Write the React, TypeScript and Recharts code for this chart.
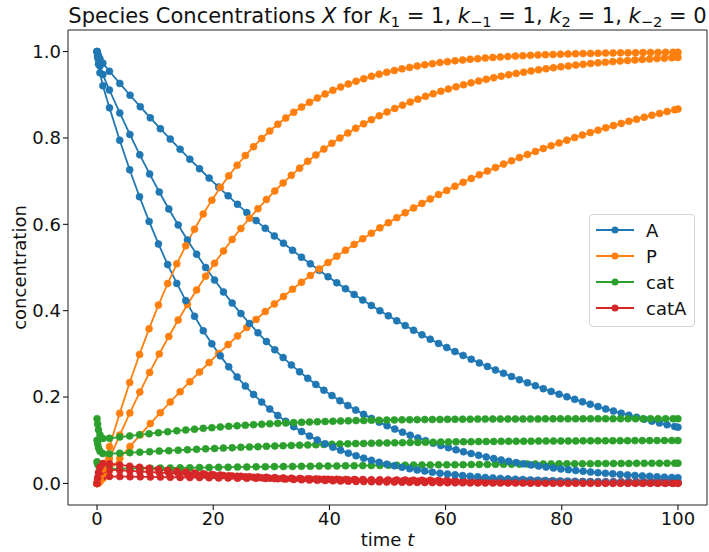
import React from "react";
import {Legend, Line, LineChart, ReferenceArea, XAxis, YAxis} from "recharts";

// run 1: cat0 = 0.05
const T1 = [0, 0.1, 0.25, 0.5, 1, 2.13, 3.92, 5.68, 7.44, 9.17, 10.9, 12.6, 14.3, 15.97, 17.64, 19.29, 20.93, 22.56, 24.18, 25.78, 27.38, 28.96, 30.53, 32.09, 33.65, 35.19, 36.72, 38.25, 39.76, 41.27, 42.77, 44.26, 45.74, 47.22, 48.69, 50.15, 51.6, 53.05, 54.49, 55.93, 57.36, 58.78, 60.2, 61.61, 63.02, 64.42, 65.81, 67.2, 68.59, 69.97, 71.35, 72.72, 74.09, 75.46, 76.82, 78.17, 79.53, 80.88, 82.22, 83.56, 84.9, 86.24, 87.57, 88.9, 90.23, 91.55, 92.87, 94.19, 95.51, 96.82, 98.13, 99.44, 100];
const A1 = [1, 0.9955, 0.9901, 0.9832, 0.9731, .9545, .9263, .8989, .8724, .8466, .8216, .7973, .7737, .7509, .7287, .7071, .6862, .6660, .6463, .6272, .6086, .5907, .5732, .5563, .5398, .5239, .5084, .4934, .4788, .4646, .4509, .4376, .4246, .4121, .3999, .3881, .3766, .3655, .3547, .3442, .3340, .3242, .3146, .3053, .2963, .2875, .2790, .2708, .2628, .2550, .2475, .2401, .2330, .2262, .2195, .2130, .2067, .2006, .1947, .1889, .1833, .1779, .1726, .1675, .1626, .1578, .1531, .1486, .1442, .1399, .1358, .1318, .1301];
const P1 = [0, 0.0002, 0.0012, 0.004, 0.0113, .0293, .0579, .0856, .1124, .1385, .1639, .1885, .2123, .2355, .2580, .2798, .3010, .3216, .3415, .3609, .3797, .3980, .4157, .4329, .4496, .4658, .4815, .4968, .5116, .5260, .5399, .5535, .5666, .5794, .5918, .6038, .6155, .6268, .6378, .6485, .6588, .6689, .6786, .6881, .6973, .7062, .7149, .7233, .7314, .7394, .7470, .7545, .7617, .7688, .7756, .7822, .7886, .7949, .8009, .8068, .8125, .8180, .8234, .8286, .8337, .8386, .8433, .8480, .8524, .8568, .8610, .8651, .8669];
const CAT1 = [0.05, 0.0457, 0.0413, 0.0372, 0.0343, .0338, .0342, .0345, .0348, .0351, .0354, .0357, .0361, .0364, .0366, .0369, .0372, .0375, .0378, .0381, .0383, .0386, .0389, .0391, .0394, .0396, .0399, .0401, .0403, .0406, .0408, .0410, .0412, .0415, .0417, .0419, .0421, .0423, .0425, .0427, .0428, .0430, .0432, .0434, .0435, .0437, .0439, .0440, .0442, .0443, .0445, .0446, .0448, .0449, .0451, .0452, .0453, .0454, .0456, .0457, .0458, .0459, .0460, .0461, .0462, .0463, .0464, .0465, .0466, .0467, .0468, .0469, .0469];
const CATA1 = [0, 0.0043, 0.0087, 0.0128, 0.0157, .0162, .0158, .0155, .0152, .0149, .0146, .0143, .0139, .0136, .0134, .0131, .0128, .0125, .0122, .0119, .0117, .0114, .0111, .0109, .0106, .0104, .0101, .0099, .0097, .0094, .0092, .0090, .0088, .0085, .0083, .0081, .0079, .0077, .0075, .0073, .0072, .0070, .0068, .0066, .0065, .0063, .0061, .0060, .0058, .0057, .0055, .0054, .0052, .0051, .0049, .0048, .0047, .0046, .0044, .0043, .0042, .0041, .0040, .0039, .0038, .0037, .0036, .0035, .0034, .0033, .0032, .0031, .0031];

// run 2: cat0 = 0.1
const T2 = [0, 0.1, 0.25, 0.5, 1, 2.13, 3.91, 5.65, 7.36, 9.05, 10.71, 12.35, 13.97, 15.56, 17.14, 18.69, 20.23, 21.76, 23.26, 24.76, 26.24, 27.7, 29.16, 30.6, 32.03, 33.45, 34.87, 36.27, 37.67, 39.05, 40.43, 41.81, 43.17, 44.53, 45.89, 47.24, 48.58, 49.92, 51.25, 52.58, 53.91, 55.23, 56.55, 57.86, 59.18, 60.48, 61.79, 63.09, 64.39, 65.69, 66.99, 68.28, 69.57, 70.86, 72.15, 73.44, 74.72, 76.01, 77.29, 78.57, 79.85, 81.13, 82.41, 83.68, 84.96, 86.23, 87.51, 88.78, 90.05, 91.32, 92.59, 93.86, 95.13, 96.4, 97.67, 98.94, 100];
const A2 = [1, 0.9911, 0.9804, 0.9668, 0.9468, .9111, .8580, .8081, .7610, .7167, .6749, .6356, .5986, .5638, .5309, .5000, .4709, .4435, .4176, .3933, .3704, .3488, .3285, .3094, .2914, .2744, .2584, .2434, .2292, .2159, .2033, .1915, .1803, .1698, .1599, .1506, .1418, .1336, .1258, .1185, .1116, .1051, .0990, .0932, .0878, .0827, .0778, .0733, .0690, .0650, .0612, .0577, .0543, .0511, .0482, .0454, .0427, .0402, .0379, .0357, .0336, .0317, .0298, .0281, .0264, .0249, .0234, .0221, .0208, .0196, .0184, .0174, .0164, .0154, .0145, .0137, .0130];
const P2 = [0, 0.0005, 0.0024, 0.0079, 0.0223, .0576, .1120, .1632, .2115, .2570, .2998, .3403, .3784, .4143, .4481, .4800, .5101, .5384, .5651, .5903, .6140, .6363, .6574, .6772, .6959, .7135, .7301, .7458, .7605, .7744, .7875, .7998, .8114, .8224, .8327, .8424, .8516, .8602, .8683, .8760, .8832, .8899, .8963, .9024, .9080, .9134, .9184, .9232, .9276, .9318, .9358, .9395, .9431, .9464, .9495, .9524, .9552, .9578, .9603, .9626, .9648, .9668, .9687, .9706, .9723, .9739, .9754, .9768, .9782, .9795, .9807, .9818, .9828, .9838, .9848, .9857, .9864];
const CAT2 = [0.1, 0.0916, 0.0828, 0.0747, 0.069, .0687, .0700, .0712, .0724, .0736, .0748, .0759, .0770, .0780, .0790, .0800, .0809, .0819, .0827, .0836, .0844, .0851, .0859, .0866, .0873, .0879, .0886, .0892, .0897, .0903, .0908, .0913, .0917, .0922, .0926, .0930, .0934, .0937, .0941, .0944, .0947, .0950, .0953, .0955, .0958, .0960, .0963, .0965, .0967, .0969, .0970, .0972, .0974, .0975, .0976, .0978, .0979, .0980, .0981, .0982, .0983, .0984, .0985, .0986, .0987, .0988, .0988, .0989, .0990, .0990, .0991, .0991, .0992, .0992, .0993, .0993, .0994];
const CATA2 = [0, 0.0084, 0.0172, 0.0253, 0.031, .0313, .0300, .0288, .0276, .0264, .0252, .0241, .0230, .0220, .0210, .0200, .0191, .0181, .0173, .0164, .0156, .0149, .0141, .0134, .0127, .0121, .0114, .0108, .0103, .0097, .0092, .0087, .0083, .0078, .0074, .0070, .0066, .0063, .0059, .0056, .0053, .0050, .0047, .0045, .0042, .0040, .0037, .0035, .0033, .0031, .0030, .0028, .0026, .0025, .0024, .0022, .0021, .0020, .0019, .0018, .0017, .0016, .0015, .0014, .0013, .0012, .0012, .0011, .0010, .0010, .0009, .0009, .0008, .0008, .0007, .0007, .0006];

// run 3: cat0 = 0.15
const T3 = [0, 0.1, 0.25, 0.5, 1, 2.14, 3.9, 5.62, 7.31, 8.96, 10.57, 12.16, 13.73, 15.27, 16.78, 18.28, 19.76, 21.22, 22.67, 24.11, 25.53, 26.94, 28.34, 29.73, 31.11, 32.49, 33.85, 35.21, 36.57, 37.92, 39.26, 40.6, 41.93, 43.26, 44.59, 45.91, 47.24, 48.55, 49.87, 51.18, 52.5, 53.81, 55.11, 56.42, 57.72, 59.03, 60.33, 61.63, 62.93, 64.23, 65.53, 66.83, 68.13, 69.42, 70.72, 72.02, 73.31, 74.61, 75.9, 77.19, 78.49, 79.78, 81.07, 82.37, 83.66, 84.95, 86.24, 87.54, 88.83, 90.12, 91.41, 92.7, 93.99, 95.28, 96.57, 97.87, 99.16, 100];
const A3 = [1, 0.9868, 0.9709, 0.9508, 0.921, .8697, .7948, .7264, .6639, .6068, .5545, .5068, .4632, .4233, .3869, .3536, .3232, .2954, .2699, .2467, .2255, .2061, .1883, .1721, .1573, .1438, .1314, .1201, .1097, .1003, .0917, .0838, .0766, .0700, .0640, .0585, .0534, .0488, .0446, .0408, .0373, .0341, .0311, .0285, .0260, .0238, .0217, .0199, .0181, .0166, .0152, .0139, .0127, .0116, .0106, .0097, .0088, .0081, .0074, .0067, .0062, .0056, .0052, .0047, .0043, .0039, .0036, .0033, .0030, .0027, .0025, .0023, .0021, .0019, .0018, .0016, .0015, .0014];
const P3 = [0, 0.0007, 0.0036, 0.0117, 0.0331, .0848, .1625, .2336, .2987, .3583, .4129, .4629, .5086, .5505, .5888, .6239, .6560, .6854, .7122, .7368, .7593, .7799, .7988, .8160, .8318, .8462, .8594, .8714, .8825, .8925, .9018, .9102, .9179, .9250, .9314, .9373, .9427, .9476, .9521, .9562, .9600, .9634, .9666, .9695, .9721, .9745, .9767, .9787, .9805, .9822, .9837, .9851, .9864, .9876, .9886, .9896, .9905, .9913, .9921, .9928, .9934, .9940, .9945, .9950, .9954, .9958, .9961, .9965, .9968, .9971, .9973, .9975, .9978, .9980, .9981, .9983, .9984, .9985];
const CAT3 = [0.15, 0.1375, 0.1245, 0.1124, 0.1041, .1045, .1073, .1100, .1126, .1151, .1174, .1197, .1218, .1238, .1257, .1275, .1291, .1307, .1322, .1335, .1348, .1360, .1371, .1381, .1391, .1399, .1408, .1415, .1422, .1428, .1434, .1440, .1445, .1449, .1454, .1457, .1461, .1464, .1467, .1470, .1473, .1475, .1477, .1479, .1481, .1482, .1484, .1485, .1487, .1488, .1489, .1490, .1491, .1491, .1492, .1493, .1493, .1494, .1494, .1495, .1495, .1496, .1496, .1496, .1497, .1497, .1497, .1498, .1498, .1498, .1498, .1498, .1498, .1499, .1499, .1499, .1499, .1499];
const CATA3 = [0, 0.0125, 0.0255, 0.0376, 0.0459, .0455, .0427, .0400, .0374, .0349, .0326, .0303, .0282, .0262, .0243, .0225, .0209, .0193, .0178, .0165, .0152, .0140, .0129, .0119, .0109, .0101, .0092, .0085, .0078, .0072, .0066, .0060, .0055, .0051, .0046, .0043, .0039, .0036, .0033, .0030, .0027, .0025, .0023, .0021, .0019, .0018, .0016, .0015, .0013, .0012, .0011, .0010, .0009, .0009, .0008, .0007, .0007, .0006, .0006, .0005, .0005, .0004, .0004, .0004, .0003, .0003, .0003, .0002, .0002, .0002, .0002, .0002, .0002, .0001, .0001, .0001, .0001, .0001];

const X_TICKS = [0, 20, 40, 60, 80, 100];
const Y_TICKS = [0, 0.2, 0.4, 0.6, 0.8, 1.0];

const SPECIES = [
    {key: "A", color: "#1f77b4"},
    {key: "P", color: "#ff7f0e"},
    {key: "cat", color: "#2ca02c"},
    {key: "catA", color: "#d62728"},
];

const RUNS = [
    {t: T1, A: A1, P: P1, cat: CAT1, catA: CATA1},
    {t: T2, A: A2, P: P2, cat: CAT2, catA: CATA2},
    {t: T3, A: A3, P: P3, cat: CAT3, catA: CATA3},
];

const FONT = "DejaVu Sans";

const renderLegend = (props: any) => {
    const items = (props.payload || []).filter((p: any) => p.type !== "none");
    return (
        <div style={{
            width: 106, height: 113, boxSizing: "border-box", border: "1px solid #d4d4d4",
            borderRadius: 4, background: "rgba(255,255,255,0.8)", fontFamily: FONT, fontSize: 18,
            paddingTop: 2
        }}>
            {items.map((p: any) => (
                <div key={p.value} style={{display: "flex", alignItems: "center", height: 26}}>
                    <svg width={50} height={12} style={{marginLeft: 6}}>
                        <line x1={0} y1={6} x2={38} y2={6} stroke={p.color} strokeWidth={1.8}/>
                        <circle cx={19} cy={6} r={3.5} fill={p.color}/>
                    </svg>
                    <span style={{color: "#111"}}>{p.value}</span>
                </div>
            ))}
        </div>
    );
};

const xLabel = (props: any) => {
    const vb = props.viewBox;
    return (
        <text x={vb.x + vb.width / 2} y={vb.y + 41} textAnchor="middle" fontSize={18} fontFamily={FONT} fill="#111">
            <tspan>time </tspan><tspan fontStyle="italic">t</tspan>
        </text>
    );
};

const yLabel = (props: any) => {
    const vb = props.viewBox;
    const x = vb.x + 21;
    const y = vb.y + vb.height / 2;
    return (
        <text x={x} y={y} transform={`rotate(-90 ${x} ${y})`} textAnchor="middle" dominantBaseline="middle"
              fontSize={18} fontFamily={FONT} fill="#111">concentration</text>
    );
};

export default function App() {
    const sub = {fontSize: "0.7em", verticalAlign: "-0.3em", lineHeight: 0};
    return (
        <div style={{position: "absolute", left: 0, top: 0, width: 709, height: 552, background: "#fff"}}>
            <div style={{
                position: "absolute", left: 38, width: 699, top: 4, textAlign: "center",
                fontFamily: FONT, fontSize: 21, lineHeight: "24px", color: "#111", whiteSpace: "nowrap", zIndex: 2
            }}>
                Species Concentrations <i>X</i> for <i>k</i><sub style={sub}>1</sub> = 1, <i>k</i><sub style={sub}>−1</sub> = 1, <i>k</i><sub style={sub}>2</sub> = 1, <i>k</i><sub style={sub}>−2</sub> = 0
            </div>
            <LineChart width={709} height={552} margin={{top: 30, right: 2, bottom: 0, left: 0}}>
                <XAxis type="number" dataKey="t" domain={[-5, 105]} ticks={X_TICKS} allowDataOverflow
                       height={47} axisLine={false} tickLine={{stroke: "#000"}} tickSize={5}
                       tick={{fontSize: 18, fontFamily: FONT, fill: "#111"}} label={{content: xLabel}}/>
                <YAxis type="number" domain={[-0.05, 1.05]} ticks={Y_TICKS} allowDataOverflow width={68}
                       axisLine={false} tickLine={{stroke: "#000"}} tickSize={5}
                       tickFormatter={(v: number) => v.toFixed(1)}
                       tick={{fontSize: 18, fontFamily: FONT, fill: "#111"}} label={{content: yLabel}}/>
                {RUNS.map((run: any, ri) => SPECIES.map(sp => (
                    <Line key={sp.key + ri} data={run.t.map((t: number, i: number) => ({t, v: run[sp.key][i]}))}
                          dataKey="v" name={sp.key} type="linear" stroke={sp.color} strokeWidth={1.8}
                          dot={{r: 3.5, fill: sp.color, stroke: sp.color, strokeWidth: 0.6}} activeDot={false}
                          legendType={ri === 0 ? "line" : "none"} isAnimationActive={false}/>
                )))}
                <ReferenceArea x1={-5} x2={105} y1={-0.05} y2={1.05} fill="none" stroke="#222" strokeWidth={1}
                               fillOpacity={0} ifOverflow="visible"/>
                <Legend layout="vertical" align="center" verticalAlign="middle" content={renderLegend}
                        wrapperStyle={{left: 589, top: 214, width: 106, height: 113}}/>
            </LineChart>
        </div>
    );
}
